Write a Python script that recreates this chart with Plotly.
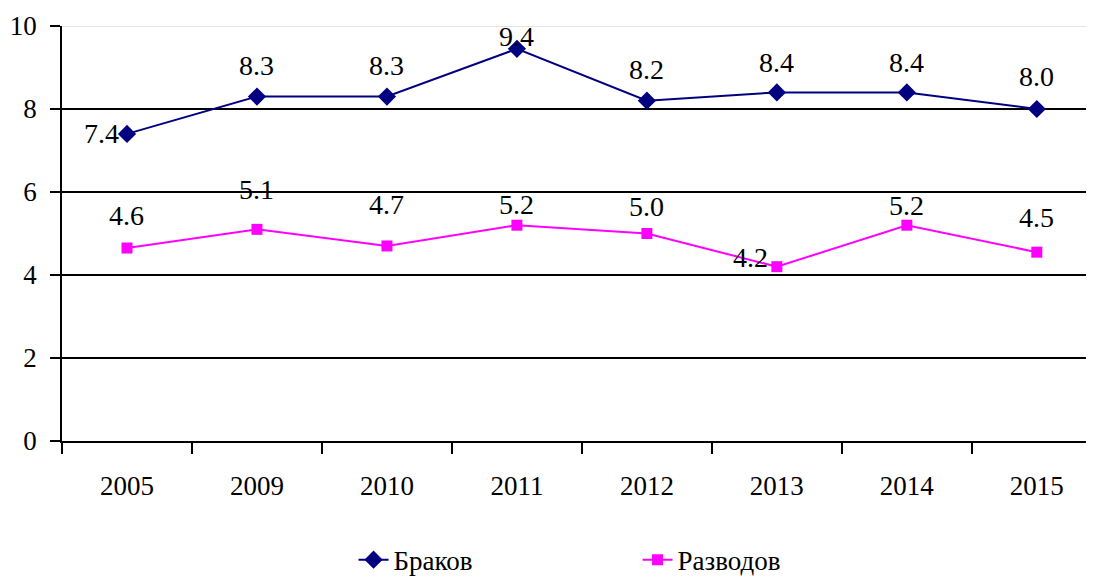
import plotly.graph_objects as go

years = ["2005", "2009", "2010", "2011", "2012", "2013", "2014", "2015"]
marriages = [7.4, 8.3, 8.3, 9.45, 8.2, 8.4, 8.4, 8.0]
marriage_labels = ["7.4", "8.3", "8.3", "9.4", "8.2", "8.4", "8.4", "8.0"]
divorces = [4.65, 5.1, 4.7, 5.2, 5.0, 4.2, 5.2, 4.55]
divorce_labels = ["4.6", "5.1", "4.7", "5.2", "5.0", "4.2", "5.2", "4.5"]

# label offsets (pixels) relative to points
m_shift = [(-25, 0), (0, 31), (0, 31), (0, 12), (0, 31), (0, 30), (0, 30), (0, 33)]
d_shift = [(0, 33), (0, 40), (0, 41), (0, 21), (0, 27), (-26, 9), (0, 20), (0, 35)]

FONT = "Liberation Serif"

fig = go.Figure()
fig.add_trace(go.Scatter(
    x=years, y=marriages, name="Браков", mode="lines+markers",
    line=dict(color="#000080", width=2),
    marker=dict(symbol="diamond", size=14, color="#000080"),
))
fig.add_trace(go.Scatter(
    x=years, y=divorces, name="Разводов", mode="lines+markers",
    line=dict(color="#FF00FF", width=2),
    marker=dict(symbol="square", size=11, color="#FF00FF"),
))

for ys, labs, shifts in [(marriages, marriage_labels, m_shift),
                         (divorces, divorce_labels, d_shift)]:
    for i, (y, t, (dx, dy)) in enumerate(zip(ys, labs, shifts)):
        fig.add_annotation(x=i, y=y, xref="x", yref="y", text=t, showarrow=False,
                           xshift=dx, yshift=dy,
                           font=dict(family=FONT, size=28, color="black"))

fig.update_layout(
    width=1086, height=569,
    margin=dict(l=54, r=0, t=18, b=136, autoexpand=False),
    paper_bgcolor="white", plot_bgcolor="white",
    font=dict(family=FONT, size=27, color="black"),
    showlegend=True,
    legend=dict(orientation="h", x=0.2825, xanchor="left", y=-0.287, yanchor="middle",
                entrywidth=239, entrywidthmode="pixels",
                font=dict(family=FONT, size=27)),
    shapes=[dict(type="line", xref="paper", yref="y", x0=0, x1=1, y0=10, y1=10,
                 line=dict(color="#e4e4e4", width=2), layer="above")],
)
fig.update_xaxes(
    type="category", range=[-0.5, 7.44],
    showline=True, linecolor="black", linewidth=1.5,
    ticks="outside", ticklen=11, tickcolor="black", tickwidth=1.5,
    tickson="boundaries", showgrid=False, zeroline=False,
    ticklabelstandoff=20,
    tickfont=dict(family=FONT, size=27),
)
fig.update_yaxes(
    range=[0, 10], tickmode="array", tickvals=[0, 2, 4, 6, 8, 10],
    showline=True, linecolor="black", linewidth=1.5,
    ticks="outside", ticklen=10, tickcolor="black", tickwidth=1.5,
    showgrid=True, gridcolor="black", gridwidth=1.5, zeroline=False,
    ticklabelstandoff=8,
    tickfont=dict(family=FONT, size=27),
)

fig.write_html("out.html")
